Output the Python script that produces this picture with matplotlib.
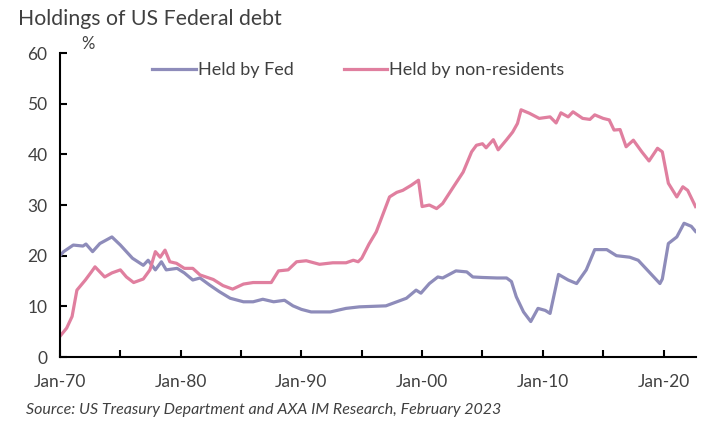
import numpy as np
import matplotlib
import matplotlib.pyplot as plt

matplotlib.use('Agg')

plt.rcParams['font.family'] = ['Lato', 'DejaVu Sans']

# Held by Fed, % of federal debt (year as decimal, value)
fed_year = [1970.0, 1970.3, 1971.1, 1971.9, 1972.15, 1972.7, 1973.3, 1974.3, 1975.0,
            1976.0, 1976.9, 1977.3, 1977.9, 1978.4, 1978.8, 1979.7, 1980.3, 1981.0,
            1981.6, 1982.4, 1983.2, 1984.1, 1985.2, 1986.0, 1986.8, 1987.7, 1988.6,
            1989.3, 1990.0, 1990.8, 1992.4, 1993.7, 1994.8, 1997.0, 1998.7, 1999.5,
            1999.9, 2000.6, 2001.3, 2001.7, 2002.8, 2003.7, 2004.2, 2005.0, 2006.2,
            2007.0, 2007.4, 2007.8, 2008.4, 2009.0, 2009.6, 2010.2, 2010.6, 2011.3,
            2012.1, 2012.8, 2013.6, 2014.3, 2015.3, 2016.1, 2017.2, 2017.9, 2018.8,
            2019.7, 2019.9, 2020.4, 2021.1, 2021.7, 2022.3, 2022.65]
fed_val = [20.0, 20.8, 22.1, 21.9, 22.3, 20.8, 22.4, 23.7, 22.1,
           19.5, 18.1, 19.1, 17.2, 18.8, 17.2, 17.5, 16.6, 15.2,
           15.6, 14.2, 12.9, 11.6, 10.9, 10.9, 11.4, 10.9, 11.2,
           10.1, 9.4, 8.9, 8.9, 9.6, 9.9, 10.1, 11.6, 13.2,
           12.6, 14.5, 15.8, 15.6, 17.0, 16.8, 15.8, 15.7, 15.6,
           15.6, 14.9, 11.9, 8.9, 7.0, 9.6, 9.2, 8.6, 16.3,
           15.2, 14.5, 17.2, 21.2, 21.2, 20.0, 19.7, 19.1, 16.8,
           14.5, 15.4, 22.4, 23.7, 26.4, 25.8, 24.8]

# Held by non-residents, % of federal debt
nr_year = [1970.0, 1970.55, 1971.0, 1971.4, 1972.1, 1972.6, 1972.9, 1973.3, 1973.7,
           1974.3, 1975.0, 1975.5, 1976.1, 1976.9, 1977.45, 1977.9, 1978.3, 1978.7,
           1979.1, 1979.65, 1980.3, 1981.0, 1981.6, 1982.7, 1983.5, 1984.3, 1985.2,
           1986.0, 1986.8, 1987.5, 1988.1, 1988.9, 1989.6, 1990.4, 1991.5, 1992.6,
           1993.7, 1994.3, 1994.7, 1995.0, 1995.6, 1996.2, 1997.3, 1997.9, 1998.4,
           1999.1, 1999.7, 2000.0, 2000.6, 2001.2, 2001.7, 2002.6, 2003.4, 2004.1,
           2004.5, 2005.0, 2005.3, 2005.9, 2006.3, 2007.0, 2007.5, 2007.9, 2008.2,
           2008.9, 2009.7, 2010.6, 2011.1, 2011.5, 2012.1, 2012.5, 2013.3, 2013.9,
           2014.3, 2015.0, 2015.5, 2015.9, 2016.4, 2016.9, 2017.5, 2018.2, 2018.8,
           2019.5, 2019.9, 2020.4, 2021.1, 2021.6, 2022.0, 2022.65]
nr_val = [4.1, 5.7, 8.0, 13.2, 15.2, 16.8, 17.8, 16.8, 15.8,
          16.6, 17.2, 15.8, 14.7, 15.4, 17.2, 20.8, 19.7, 21.1,
          18.8, 18.5, 17.5, 17.5, 16.2, 15.3, 14.1, 13.4, 14.4,
          14.7, 14.7, 14.7, 17.0, 17.2, 18.8, 19.0, 18.3, 18.6,
          18.6, 19.1, 18.8, 19.5, 22.3, 24.7, 31.6, 32.5, 32.9,
          33.9, 34.9, 29.7, 30.0, 29.3, 30.3, 33.6, 36.5, 40.5,
          41.8, 42.1, 41.3, 42.9, 40.9, 42.9, 44.4, 46.1, 48.8,
          48.1, 47.1, 47.4, 46.2, 48.2, 47.4, 48.4, 47.1, 46.9,
          47.8, 47.1, 46.8, 44.8, 44.9, 41.5, 42.8, 40.5, 38.7,
          41.2, 40.5, 34.3, 31.6, 33.6, 32.9, 29.7]

tick_years = [1970, 1975, 1980, 1985, 1990, 1995, 2000, 2005, 2010, 2015, 2020]
tick_labels = ['Jan-70', '', 'Jan-80', '', 'Jan-90', '', 'Jan-00', '', 'Jan-10', '', 'Jan-20']

fig = plt.figure(figsize=(7.06, 4.21), dpi=100)
ax = fig.add_axes([0.085, 0.152, 0.901, 0.722])

ax.plot(fed_year, fed_val, color='#8e8cba', lw=2.3, label='Held by Fed')
ax.plot(nr_year, nr_val, color='#e07f9f', lw=2.3, label='Held by non-residents')

ax.set_xlim(1970, 2022.7)
ax.set_ylim(0, 60)
ax.set_yticks(range(0, 61, 10))
ax.set_xticks(tick_years)
ax.set_xticklabels(tick_labels)

for s in ['top', 'right']:
    ax.spines[s].set_visible(False)
for s in ['left', 'bottom']:
    ax.spines[s].set_linewidth(1.5)
    ax.spines[s].set_color('black')

ax.tick_params(axis='both', direction='in', length=5, width=1.5, labelsize=12.5,
               labelcolor='#404040')
ax.tick_params(axis='y', pad=9)
ax.tick_params(axis='x', pad=12)

ax.text(0.044, 1.03, '%', transform=ax.transAxes, fontsize=12, color='#404040',
        ha='center', va='center')

ax.legend(loc='center', bbox_to_anchor=(0.469, 0.944), ncol=2, frameon=False,
          fontsize=13, handlelength=2.4, handletextpad=0.1, columnspacing=2.8,
          labelcolor='#404040')

fig.text(0.025, 0.955, 'Holdings of US Federal debt', fontsize=15.3, color='#404040',
         ha='left', va='center')
fig.text(0.037, 0.027, 'Source: US Treasury Department and AXA IM Research, February 2023',
         fontsize=11.5, style='italic', color='#404040', ha='left', va='center')

fig.savefig('out.png', dpi=100)
